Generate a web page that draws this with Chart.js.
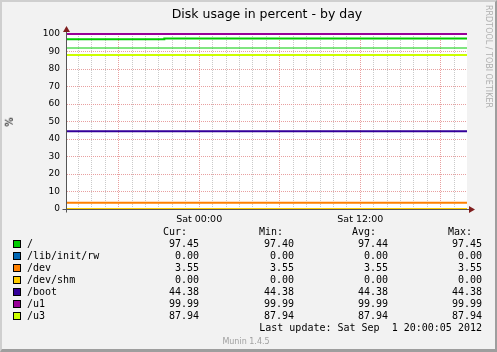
<!DOCTYPE html>
<html>
<head>
<meta charset="utf-8">
<script src="https://cdn.jsdelivr.net/npm/chart.js@4.4.0/dist/chart.umd.js"></script>
<style>
  html, body { margin: 0; padding: 0; background: #F2F2F2; }
  #page { position: relative; width: 497px; height: 352px; overflow: hidden; }
  #page canvas { position: absolute; left: 0; top: 0; }
  #frame {
    position: absolute; left: 0; top: 0; width: 497px; height: 352px; box-sizing: border-box;
    border-top: 2px solid #CFCFCF; border-left: 2px solid #CFCFCF;
    border-right: 2px solid #9E9E9E; border-bottom: 3px solid #9E9E9E;
    pointer-events: none;
  }
  .txt { position: absolute; white-space: pre; color: #000; }
  .sans { font-family: "DejaVu Sans", sans-serif; }
  .mono { font-family: "DejaVu Sans Mono", monospace; font-size: 10px; line-height: 12px; }
  .swatch { position: absolute; width: 8px; height: 8px; box-sizing: border-box; border: 1px solid #000; }
</style>
</head>
<body>
<div id="page">
  <canvas id="chart" width="497" height="352"></canvas>
  <div class="txt sans" style="left:67px; width:400px; top:7px; font-size:12.5px; line-height:13px; text-align:center;">Disk usage in percent - by day</div>
  <div class="txt sans" style="left:5px; top:116px; font-size:10px; line-height:12px; transform: rotate(-90deg);">%</div>
  <div class="txt sans" style="left:484px; top:5px; font-size:8px; color:#B0B0B0; writing-mode: vertical-rl;">RRDTOOL / TOBI OETIKER</div>
  <div class="txt sans" style="left:196px; width:100px; top:337px; font-size:8px; line-height:10px; color:#A0A0A0; text-align:center;">Munin 1.4.5</div>
  <div id="legend"></div>
  <div id="frame"></div>
</div>
<script>
// hours relative to Sat 00:00
const xMin = -9.85
const xMax = 19.95
const xLabels = { 0: 'Sat 00:00', 12: 'Sat 12:00' }

const seriesNames = ['/', '/lib/init/rw', '/dev', '/dev/shm', '/boot', '/u1', '/u3']
const seriesColors = ['#00CC00', '#0066B3', '#FF8000', '#FFCC00', '#330099', '#990099', '#CCFF00']

// each series: times (hours) and values (%)
const rootTimes = [-9.85, -2.6, 19.95]
const rootValues = [97.05, 97.45, 97.45]
const flatTimes = [-9.85, 19.95]
const libInitRwValues = [0, 0]
const devValues = [3.55, 3.55]
const devShmValues = [0, 0]
const bootValues = [44.38, 44.38]
const u1Values = [99.99, 99.99]
const u3Values = [87.94, 87.94]
const rootWarning = [92, 92]

const curValues = [97.45, 0.00, 3.55, 0.00, 44.38, 99.99, 87.94]
const minValues = [97.40, 0.00, 3.55, 0.00, 44.38, 99.99, 87.94]
const avgValues = [97.44, 0.00, 3.55, 0.00, 44.38, 99.99, 87.94]
const maxValues = [97.45, 0.00, 3.55, 0.00, 44.38, 99.99, 87.94]
const lastUpdate = 'Last update: Sat Sep  1 20:00:05 2012'

const seriesTimes = [rootTimes, flatTimes, flatTimes, flatTimes, flatTimes, flatTimes, flatTimes]
const seriesValues = [rootValues, libInitRwValues, devValues, devShmValues, bootValues, u1Values, u3Values]

const toPoints = (times, values) => times.map((t, i) => ({ x: t, y: values[i] }))

const datasets = seriesNames.map((name, i) => ({
  label: name,
  data: toPoints(seriesTimes[i], seriesValues[i]),
  borderColor: seriesColors[i],
  borderWidth: 2,
  stepped: i === 0,
  order: seriesNames.length - i,
  clip: 4
}))
datasets.push({
  label: 'warning',
  data: toPoints(flatTimes, rootWarning),
  borderColor: '#00CC00',
  borderWidth: 1,
  order: 20,
  clip: 4
})

const GRID_MINOR = '#CACACA'
const GRID_MAJOR = '#E8A0A0'

// fond blanc + axes avec flèches (style rrdtool)
const rrdPlugin = {
  id: 'rrd',
  beforeDraw(chart) {
    const { ctx, chartArea: a } = chart
    ctx.save()
    ctx.fillStyle = '#F2F2F2'
    ctx.fillRect(0, 0, chart.width, chart.height)
    ctx.fillStyle = '#FFFFFF'
    ctx.fillRect(a.left, a.top, a.right - a.left, a.bottom - a.top)
    ctx.restore()
  },
  afterDraw(chart) {
    const { ctx, chartArea: a } = chart
    const x0 = Math.round(a.left) - 0.5
    const y0 = Math.round(a.bottom) + 0.5
    ctx.save()
    ctx.strokeStyle = '#555555'
    ctx.lineWidth = 1
    ctx.beginPath()
    ctx.moveTo(x0 - 4, y0)
    ctx.lineTo(a.right + 3, y0)
    ctx.moveTo(x0, y0 + 3)
    ctx.lineTo(x0, a.top - 3)
    ctx.stroke()
    ctx.fillStyle = '#801F1F'
    ctx.beginPath()
    ctx.moveTo(x0, a.top - 8)
    ctx.lineTo(x0 - 3.5, a.top - 2)
    ctx.lineTo(x0 + 3.5, a.top - 2)
    ctx.closePath()
    ctx.fill()
    ctx.beginPath()
    ctx.moveTo(a.right + 8, y0)
    ctx.lineTo(a.right + 2, y0 - 3.5)
    ctx.lineTo(a.right + 2, y0 + 3.5)
    ctx.closePath()
    ctx.fill()
    ctx.restore()
  }
}

new Chart(document.getElementById('chart'), {
  type: 'line',
  data: { datasets },
  options: {
    responsive: false,
    animation: false,
    devicePixelRatio: 1,
    layout: { padding: { top: 34, right: 30, bottom: 123, left: 0 } },
    elements: { point: { radius: 0 }, line: { tension: 0, fill: false, borderCapStyle: 'butt' } },
    plugins: { legend: { display: false }, tooltip: { enabled: false }, title: { display: false } },
    scales: {
      x: {
        type: 'linear',
        min: xMin,
        max: xMax,
        afterFit: s => { s.height = 20 },
        ticks: {
          stepSize: 1,
          includeBounds: false,
          autoSkip: false,
          maxRotation: 0,
          padding: 5,
          color: '#000',
          font: { family: 'DejaVu Sans', size: 9.5 },
          callback: v => xLabels[Math.round(v)] || ''
        },
        grid: {
          drawTicks: false,
          color: c => (Math.round(c.tick.value) % 6 === 0 ? GRID_MAJOR : GRID_MINOR)
        },
        border: { display: false, dash: [1, 1] }
      },
      y: {
        min: 0,
        max: 100,
        afterFit: s => { s.width = 67 },
        ticks: {
          stepSize: 5,
          padding: 7,
          color: '#000',
          font: { family: 'DejaVu Sans', size: 9 },
          callback: v => (v % 10 === 0 ? v : '')
        },
        grid: {
          drawTicks: false,
          color: c => (c.tick.value % 10 === 0 ? GRID_MAJOR : GRID_MINOR)
        },
        border: { display: false, dash: [1, 1] }
      }
    }
  },
  plugins: [rrdPlugin]
})

// légende façon rrdtool
const legend = document.getElementById('legend')
const addText = (text, left, top, align) => {
  const d = document.createElement('div')
  d.className = 'txt mono'
  d.textContent = text
  d.style.top = top + 'px'
  if (align === 'right') {
    d.style.left = (left - 300) + 'px'
    d.style.width = '300px'
    d.style.textAlign = 'right'
  } else {
    d.style.left = left + 'px'
  }
  legend.appendChild(d)
}
const rowTop = 226
addText('Cur:', 163, rowTop)
addText('Min:', 259, rowTop)
addText('Avg:', 352, rowTop)
addText('Max:', 448, rowTop)
seriesNames.forEach((name, i) => {
  const top = rowTop + 12 * (i + 1)
  const sw = document.createElement('div')
  sw.className = 'swatch'
  sw.style.left = '13px'
  sw.style.top = (top + 2) + 'px'
  sw.style.background = seriesColors[i]
  legend.appendChild(sw)
  addText(name, 27, top)
  addText(curValues[i].toFixed(2), 199, top, 'right')
  addText(minValues[i].toFixed(2), 294, top, 'right')
  addText(avgValues[i].toFixed(2), 388, top, 'right')
  addText(maxValues[i].toFixed(2), 482, top, 'right')
})
addText(lastUpdate, 482, rowTop + 12 * 8, 'right')
</script>
</body>
</html>
